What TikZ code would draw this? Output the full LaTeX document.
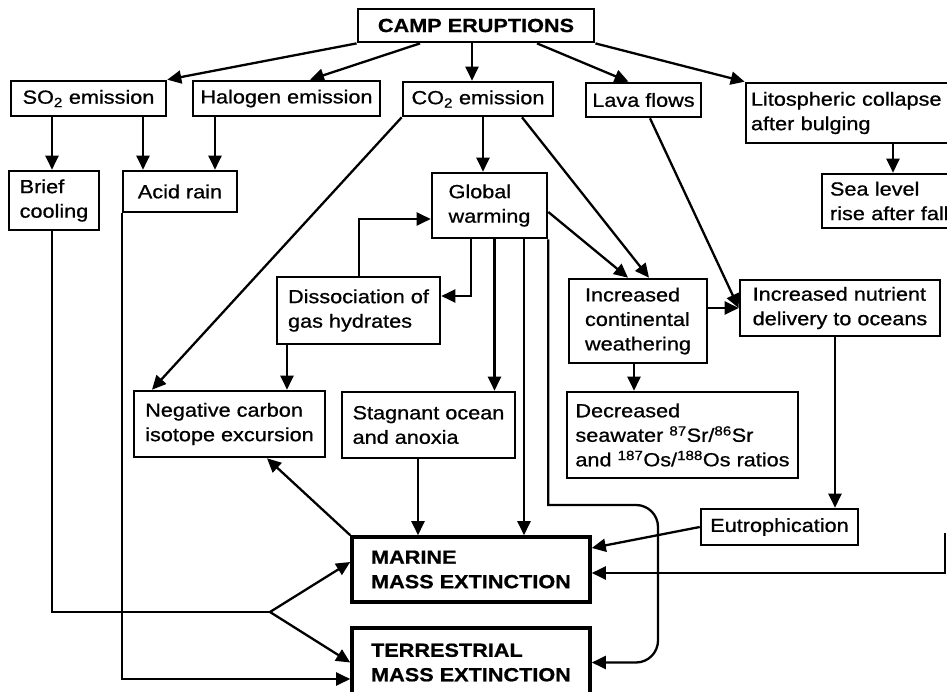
\documentclass[tikz,border=0pt]{standalone}
\usepackage{fontspec}
\setmainfont{Liberation Sans}[FakeStretch=1.14, FakeBold=0.8]
\usetikzlibrary{arrows.meta}
\tikzset{
  box/.style={draw, line width=2.6pt, align=left, inner sep=0pt,
    font=\fontsize{19}{24.5}\selectfont},
  bigbox/.style={box, line width=3.6pt, font=\fontsize{19}{24.5}\selectfont\bfseries},
  conn/.style={line width=2.3pt},
  arr/.style={conn, -{Triangle[length=14pt,width=13pt]}}
}
\begin{document}
\begin{tikzpicture}[x=1pt,y=-1pt]
\useasboundingbox (0,0) rectangle (947,692);
\fill[white] (0,0) rectangle (947,692);
\clip (0,0) rectangle (947,692);

% boxes
\node[box, line width=2.8pt, font=\fontsize{19}{24.5}\selectfont\bfseries, minimum width=236pt, minimum height=33pt] (camp) at (476,25.5) {CAMP ERUPTIONS};
\node[box, minimum width=155pt, minimum height=35pt] (so2) at (88.5,98.5) {SO\textsubscript{2} emission};
\node[box, minimum width=187pt, minimum height=35pt] (hal) at (286.5,98.5) {Halogen emission};
\node[box, minimum width=150pt, minimum height=34pt] (co2) at (478,99) {CO\textsubscript{2} emission};
\node[box, minimum width=115pt, minimum height=34pt] (lava) at (643.5,100) {Lava flows};
\node[box, inner xsep=5pt, text width=220pt, minimum height=60pt] (lito) at (861,113) {Litospheric collapse\\after bulging};
\node[box, minimum width=90pt, minimum height=59pt] (cool) at (54,200.5) {Brief\\cooling};
\node[box, minimum width=114pt, minimum height=41pt] (acid) at (180,191.5) {Acid rain};
\node[box, minimum width=115pt, minimum height=65pt] (gw) at (489.5,205.5) {Global\\warming};
\node[box, inner xsep=8pt, text width=150pt, minimum height=54pt] (sea) at (905,201) {Sea level\\rise after fall};
\node[box, minimum width=163pt, minimum height=67pt] (diss) at (358.5,310.5) {Dissociation of\\gas hydrates};
\node[box, minimum width=138pt, minimum height=84pt] (icw) at (638,321) {Increased\\continental\\weathering};
\node[box, minimum width=200pt, minimum height=56pt] (nut) at (840,308) {Increased nutrient\\delivery to oceans};
\node[box, minimum width=191pt, minimum height=66pt] (neg) at (229.5,424) {Negative carbon\\isotope excursion};
\node[box, minimum width=173pt, minimum height=66pt] (stag) at (428.5,425) {Stagnant ocean\\and anoxia};
\node[box, minimum width=231pt, minimum height=86pt] (dec) at (682.5,435) {Decreased\\seawater \textsuperscript{87}Sr/\textsuperscript{86}Sr\\and \textsuperscript{187}Os/\textsuperscript{188}Os ratios};
\node[box, minimum width=157pt, minimum height=36pt] (eut) at (779.5,527) {Eutrophication};
\node[bigbox, minimum width=238pt, minimum height=65pt] (marine) at (471,569.5) {MARINE\\MASS EXTINCTION};
\node[bigbox, minimum width=238pt, minimum height=69pt] (terr) at (471,662.5) {TERRESTRIAL\\MASS EXTINCTION};

\coordinate (br) at (270,612);
\coordinate (gwr) at (658,505);
\coordinate (seaR) at (945,533);

% from CAMP
\draw[arr] (camp.south west) -- (so2.north east);
\draw[arr] ([xshift=-56pt]camp.south) -- ([xshift=23.5pt]hal.north);
\draw[arr] ([xshift=-4pt]camp.south) -- ([xshift=-4pt]camp.south |- co2.north);
\draw[arr] ([xshift=61pt]camp.south) -- ([xshift=-15pt]lava.north);
\draw[arr] (camp.south east) -- (lito.north west);

% second row
\draw[arr] ([xshift=-36.5pt]so2.south) -- ([xshift=-36.5pt]so2.south |- cool.north);
\draw[arr] ([xshift=54.5pt]so2.south) -- ([xshift=54.5pt]so2.south |- acid.north);
\draw[arr] ([xshift=-71.5pt]hal.south) -- ([xshift=-71.5pt]hal.south |- acid.north);
\draw[arr] (co2.south west) -- ([xshift=-77.5pt]neg.north);
\draw[arr] ([xshift=5pt]co2.south) -- ([xshift=5pt]co2.south |- gw.north);
\draw[arr] ([xshift=44pt]co2.south) -- ([xshift=11pt]icw.north);
\draw[arr] ([yshift=-6.5pt]gw.east) -- ([xshift=-10pt]icw.north);
\draw[arr] ([xshift=6.5pt]lava.south) -- (nut.west);
\draw[arr] (icw.east |- nut.west) -- (nut.west);
\draw[arr] ([xshift=32pt]lito.south) -- ([xshift=32pt]lito.south |- sea.north);

% global warming feedbacks
\draw[arr] ([xshift=-18.5pt]gw.south) |- ([yshift=14.5pt]diss.east);
\draw[arr] ([xshift=0.5pt]diss.north) |- ([yshift=-13.5pt]gw.west);
\draw[arr] ([xshift=-71.5pt]diss.south) -- ([xshift=-71.5pt]diss.south |- neg.north);
\draw[arr] ([xshift=5pt]gw.south) -- ([xshift=5pt]gw.south |- stag.north);
\draw[arr] ([xshift=34.5pt]gw.south) -- ([xshift=34.5pt]gw.south |- marine.north);
\draw[arr] (gw.south east) -- (gw.south east |- gwr) -- (600,505) [rounded corners=22pt] -- (gwr) -- (gwr |- terr.east) -- (terr.east);
\draw[arr] ([xshift=-4pt]icw.south) -- ([xshift=-4pt]icw.south |- dec.north);

% to extinctions
\draw[arr] ([xshift=-10.5pt]stag.south) -- ([xshift=-10.5pt]stag.south |- marine.north);
\draw[arr] (marine.north west) -- ([xshift=37.5pt]neg.south);
\draw[conn] ([xshift=-2pt]cool.south) |- (br);
\draw[arr] (br) -- ([yshift=7.5pt]marine.west);
\draw[arr] (br) -- (terr.west);
\draw[arr] (acid.south west) |- ([yshift=-16.5pt]terr.west);
\draw[arr] ([xshift=-5pt]nut.south) -- ([xshift=-5pt]nut.south |- eut.north);
\draw[arr] (eut.west) -- ([yshift=21.5pt]marine.east);
\draw[arr] (seaR) |- ([yshift=-3.5pt]marine.east);
\end{tikzpicture}
\end{document}
